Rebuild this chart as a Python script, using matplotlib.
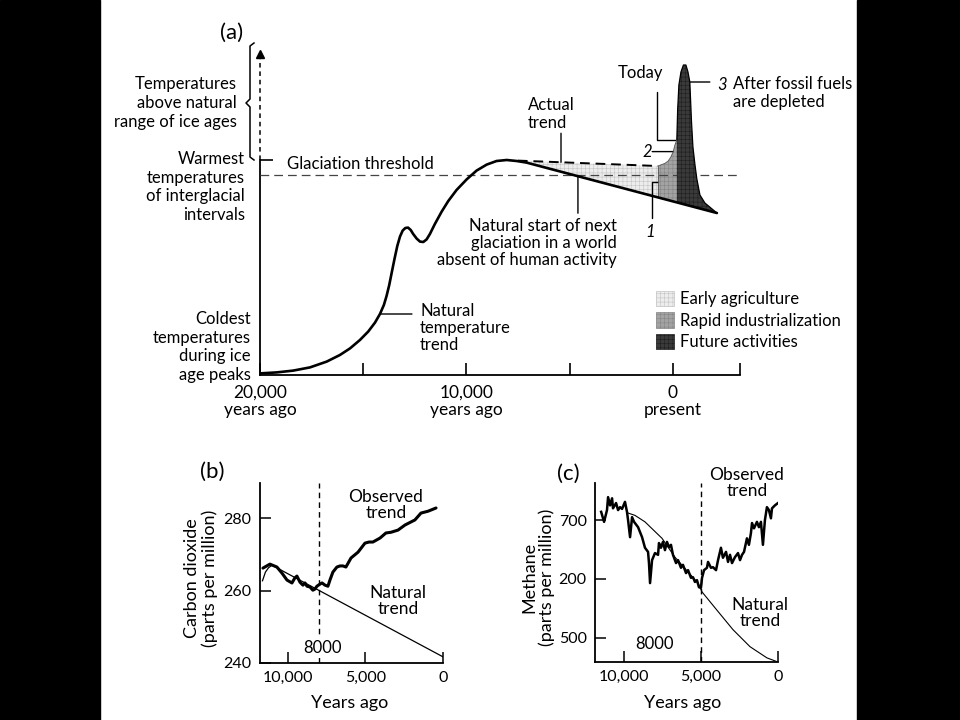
import numpy as np
import matplotlib
matplotlib.use('Agg')
import matplotlib.pyplot as plt
from matplotlib.patches import Patch, Rectangle
from matplotlib.lines import Line2D

plt.rcParams['font.family'] = ['Lato', 'DejaVu Sans']
plt.rcParams['hatch.linewidth'] = 0.4

# (a) relative temperature, years relative to present (negative = ago)
nat_years = [-20000, -19190, -18390, -17580, -16770, -16130, -15640, -15160, -14760, -14430,
             -14190, -14000, -13870, -13740, -13610, -13480, -13350, -13220, -13090, -12960,
             -12830, -12700, -12580, -12410, -12250, -12090, -11930, -11770, -11530, -11200,
             -10880, -10480, -9990, -9510, -9020, -8540, -8050, -7570, -7090, 2130]
nat_temp = [0.08, 0.13, 0.22, 0.38, 0.67, 1.0, 1.33, 1.75, 2.17, 2.62,
            3.05, 3.5, 3.95, 4.5, 5.17, 5.83, 6.45, 6.92, 7.22, 7.35,
            7.37, 7.25, 7.05, 6.82, 6.67, 6.65, 6.78, 7.05, 7.55, 8.17,
            8.7, 9.25, 9.78, 10.22, 10.52, 10.7, 10.75, 10.7, 10.62, 8.1]
actual_years = [-7510, -730]
actual_temp = [10.72, 10.45]
indust_years = [-730, -390, -230, -100, 15, 97, 190]
indust_temp = [10.45, 10.58, 10.7, 10.9, 11.17, 11.5, 11.75]
future_years = [190, 230, 290, 390, 510, 630, 730, 820, 900, 970, 1070, 1160, 1310, 1550, 1840, 2130]
future_temp = [11.75, 13.25, 14.5, 15.15, 15.5, 15.5, 15.15, 14.65, 12.67, 11.4, 10.5, 9.8, 9.0, 8.6, 8.35, 8.1]
glaciation_threshold = 10.0
warmest_interglacial = 10.75
a_ticks = [-20000, -15000, -10000, -5000, 0, 3250]
a_ticklabels = ['20,000\nyears ago', '', '10,000\nyears ago', '', '0\npresent', '']

# (b) carbon dioxide, ppm
co2_obs_years = [11610, 11160, 10710, 10380, 10060, 9740, 9550, 9420, 9220, 9030,
                 8900, 8770, 8580, 8390, 8260, 8130, 7930, 7800, 7610, 7420,
                 7290, 7100, 6840, 6640, 6450, 6260, 5930, 5480, 5030, 4770,
                 4520, 4060, 3680, 3350, 2900, 2450, 1810, 1420, 970, 450]
co2_obs_ppm = [266.2, 267.3, 266.5, 264.8, 262.9, 262.1, 263.5, 264.0, 262.3, 261.5,
               262.1, 261.2, 261.0, 260.1, 260.4, 261.2, 261.8, 262.1, 261.5, 261.2,
               262.9, 265.1, 266.5, 266.8, 266.8, 266.5, 269.0, 270.6, 273.1, 273.4,
               273.4, 274.5, 275.9, 276.1, 276.7, 278.1, 279.5, 281.4, 281.9, 282.8]
co2_nat_years = [11640, 11450, 11250, 11030, 0]
co2_nat_ppm = [262.7, 265.1, 266.3, 267.0, 241.7]

# (c) methane
ch4_obs_years = [11500, 11310, 11120, 11050, 10920, 10790, 10730, 10530, 10400, 10270,
                 10140, 9950, 9820, 9750, 9620, 9490, 9360, 9100, 8840, 8650,
                 8450, 8390, 8320, 8190, 8000, 7800, 7740, 7610, 7480, 7350,
                 7220, 7090, 6960, 6830, 6630, 6500, 6310, 6180, 5980, 5850,
                 5660, 5530, 5400, 5270, 5140, 5010, 4940, 4810, 4620, 4550,
                 4360, 4230, 4030, 3900, 3710, 3580, 3380, 3250, 3120, 2990,
                 2800, 2600, 2470, 2340, 2210, 2020, 1890, 1760, 1690, 1560,
                 1370, 1240, 1110, 980, 850, 720, 590, 460, 390, 200, 0]
ch4_obs_val = [714, 697, 717, 739, 725, 737, 720, 729, 717, 722,
               719, 731, 714, 700, 671, 705, 697, 688, 671, 653,
               646, 627, 593, 632, 644, 641, 661, 653, 663, 649,
               663, 654, 658, 641, 627, 632, 619, 624, 610, 615,
               602, 603, 595, 598, 586, 585, 602, 615, 619, 629,
               619, 620, 615, 632, 653, 636, 646, 629, 641, 627,
               637, 644, 632, 641, 646, 669, 658, 678, 695, 686,
               697, 688, 697, 658, 700, 722, 717, 703, 720, 725, 729]
ch4_nat_years = [9750, 9300, 8650, 7540, 6700, 5850, 5200, 4940, 3970, 2930, 1820, 720, 0]
ch4_nat_val = [712, 708, 697, 669, 637, 612, 593, 578, 547, 514, 485, 466, 459]
ch4_ticks = [700, 600, 500]
ch4_ticklabels = ['700', '200', '500']

W, H = 960, 720


def fx(x):
    return x / W


def fy(y):
    return 1 - y / H


def add_ax(left, top, right, bottom):
    a = fig.add_axes([fx(left), fy(bottom), (right - left) / W, (bottom - top) / H])
    a.patch.set_alpha(0)
    for s in ['top', 'right']:
        a.spines[s].set_visible(False)
    for s in ['left', 'bottom']:
        a.spines[s].set_linewidth(1.3)
    return a


def label(x, y, s, size=12, ha='left', ls=1.2, **kw):
    fig.text(fx(x), fy(y), s, fontsize=size, ha=ha, va='center', linespacing=ls, **kw)


fig = plt.figure(figsize=(9.6, 7.2), dpi=100)
fig.patch.set_facecolor('white')
fig.add_artist(Rectangle((0, 0), fx(100), 1, transform=fig.transFigure, color='black'))
fig.add_artist(Rectangle((fx(857), 0), 1 - fx(857), 1, transform=fig.transFigure, color='black'))

light = dict(facecolor='#ededed', edgecolor='#c4c4c4', hatch='++++', linewidth=0)
mid = dict(facecolor='#a3a3a3', edgecolor='#858585', hatch='++++', linewidth=0)
dark = dict(facecolor='#3a3a3a', edgecolor='#1e1e1e', hatch='++++', linewidth=0)

# ---------------- panel (a)
ax = add_ax(260, 47, 740, 375)
ax.set_xlim(-20000, 3250)
ax.set_ylim(0, 16.4)
ax.spines['left'].set_bounds(0, warmest_interglacial)

ag_x = sorted(set(actual_years + [y for y in nat_years if actual_years[0] < y < actual_years[-1]]))
ax.fill_between(ag_x, np.interp(ag_x, nat_years, nat_temp), np.interp(ag_x, actual_years, actual_temp),
                zorder=2, **light)
ax.fill_between(indust_years, np.interp(indust_years, nat_years, nat_temp), indust_temp, zorder=2, **mid)
ax.axhline(glaciation_threshold, color='#444444', lw=0.9, ls=(0, (7, 4)), zorder=3)
ax.fill_between(future_years, np.interp(future_years, nat_years, nat_temp), future_temp, zorder=4, **dark)
ax.plot(future_years, future_temp, color='black', lw=0.9, zorder=4)
ax.plot(indust_years, indust_temp, color='#555555', lw=0.6, zorder=4)
ax.plot([indust_years[0]] * 2, [np.interp(indust_years[0], nat_years, nat_temp), indust_temp[0]],
        color='#555555', lw=0.6, zorder=4)
ax.plot(actual_years, actual_temp, color='black', lw=1.4, ls=(0, (5, 3)), zorder=5)
ax.plot(nat_years, nat_temp, color='black', lw=1.9, solid_joinstyle='round', solid_capstyle='round', zorder=6)

# dashed arrow above the warmest interglacial level
ax.plot([a_ticks[0]] * 2, [warmest_interglacial, 15.9], color='black', lw=1.1, ls=(0, (3, 2.5)), clip_on=False)
ax.plot(a_ticks[0], 16.05, marker='^', ms=6, color='black', clip_on=False)

ax.set_xticks(a_ticks)
ax.set_xticklabels(a_ticklabels, linespacing=1.1)
ax.set_yticks([warmest_interglacial])
ax.set_yticklabels([])
ax.tick_params(direction='in', length=9, width=1.2, pad=7, labelsize=12.5)

# brace on the left
bx = [254, 250, 250, 246, 250, 250, 254]
by = [43, 46, 99, 103, 107, 157, 160]
fig.add_artist(Line2D([fx(v) for v in bx], [fy(v) for v in by], transform=fig.transFigure,
                      color='black', lw=1.1))

label(232, 33, '(a)', size=16, ha='center')
label(237, 103, 'Temperatures\nabove natural\nrange of ice ages', ha='right', multialignment='right')
label(245, 187, 'Warmest\ntemperatures\nof interglacial\nintervals', ha='right', multialignment='right')
label(251, 347, 'Coldest\ntemperatures\nduring ice\nage peaks', ha='right', multialignment='right')
label(287, 164, 'Glaciation threshold')
label(420, 328, 'Natural\ntemperature\ntrend', ls=1.1)
label(528, 114, 'Actual\ntrend', ls=1.1)
label(640, 73, 'Today', ha='center')
label(643, 152, '2', style='italic')
label(650, 232, '1', style='italic', ha='center')
label(722, 85, '3', style='italic', ha='center')
label(733, 93, 'After fossil fuels\nare depleted', ls=1.1)
label(617, 243, 'Natural start of next\nglaciation in a world\nabsent of human activity', ha='right',
      multialignment='right', ls=1.1)

lead = dict(arrowstyle='-', color='black', lw=1.0, shrinkA=0, shrinkB=0)
ax.annotate('', xy=(nat_years[10], nat_temp[10]), xytext=(32, 0), textcoords='offset pixels', arrowprops=lead)
ax.annotate('', xy=(-5420, np.interp(-5420, actual_years, actual_temp)), xytext=(0, 29),
            textcoords='offset pixels', arrowprops=lead)
ax.annotate('', xy=(-4600, np.interp(-4600, nat_years, nat_temp)), xytext=(0, -37),
            textcoords='offset pixels', arrowprops=lead)
ax.annotate('', xy=(indust_years[-1], indust_temp[-1]), xytext=(657, H - 92), textcoords='figure pixels',
            arrowprops=dict(lead, connectionstyle='angle,angleA=90,angleB=0,rad=0'))
ax.annotate('', xy=(indust_years[4], indust_temp[4]), xytext=(-21, 0), textcoords='offset pixels',
            arrowprops=lead)
mid_boundary = (actual_temp[-1] + np.interp(actual_years[-1], nat_years, nat_temp)) / 2
ax.annotate('', xy=(actual_years[-1], mid_boundary), xytext=(652, H - 218), textcoords='figure pixels',
            arrowprops=dict(lead, connectionstyle='angle,angleA=90,angleB=0,rad=0'))
ax.annotate('', xy=(future_years[7], future_temp[7]), xytext=(20, 0), textcoords='offset pixels',
            arrowprops=lead)

handles = [Patch(label='Early agriculture', **dict(light, linewidth=0.5)),
           Patch(label='Rapid industrialization', **dict(mid, linewidth=0.5)),
           Patch(label='Future activities', **dict(dark, linewidth=0.5))]
ax.legend(handles=handles, loc='upper left', bbox_to_anchor=(fx(656), fy(291)), bbox_transform=fig.transFigure,
          frameon=False, fontsize=12, handlelength=1.05, handleheight=1.05, labelspacing=0.3,
          handletextpad=0.4, borderpad=0, borderaxespad=0)

# ---------------- panel (b)
bx_ = add_ax(260, 483, 443, 663)
bx_.set_xlim(11800, 0)
bx_.set_ylim(240, 289.7)
bx_.axvline(8000, color='black', lw=1.0, ls=(0, (4, 3)))
bx_.plot(co2_nat_years, co2_nat_ppm, color='black', lw=0.9)
bx_.plot(co2_obs_years, co2_obs_ppm, color='black', lw=2.2, solid_joinstyle='round', solid_capstyle='round')
bx_.set_xticks([10000, 5000, 0])
bx_.set_xticklabels(['10,000', '5,000', '0'])
bx_.set_yticks([240, 260, 280])
bx_.tick_params(direction='in', length=8, width=1.1, pad=6, labelsize=11.5)

label(212, 472, '(b)', size=16, ha='center')
label(201, 578, 'Carbon dioxide\n(parts per million)', size=13, ha='center', rotation=90,
      multialignment='center', ls=1.05)
label(350, 703, 'Years ago', size=13, ha='center')
label(386, 505, 'Observed\ntrend', size=12.5, ha='center', multialignment='center', ls=1.0)
label(398, 601, 'Natural\ntrend', size=12.5, ha='center', multialignment='center', ls=1.0)
label(322, 648, '8000', size=12, ha='center',
      bbox=dict(boxstyle='square,pad=0.1', facecolor='white', edgecolor='none'))

# ---------------- panel (c)
cx = add_ax(595, 483, 778, 662)
cx.set_xlim(11900, 0)
cx.set_ylim(459, 763)
cx.axvline(5000, color='black', lw=1.0, ls=(0, (4, 3)))
cx.plot(ch4_nat_years, ch4_nat_val, color='black', lw=0.8)
cx.plot(ch4_obs_years, ch4_obs_val, color='black', lw=1.8, solid_joinstyle='round')
cx.set_xticks([10000, 5000, 0])
cx.set_xticklabels(['10,000', '5,000', '0'])
cx.set_yticks(ch4_ticks)
cx.set_yticklabels(ch4_ticklabels)
cx.tick_params(direction='in', length=8, width=1.1, pad=6, labelsize=11.5)

label(568, 474, '(c)', size=16, ha='center')
label(538, 577, 'Methane\n(parts per million)', size=13, ha='center', rotation=90,
      multialignment='center', ls=1.05)
label(683, 703, 'Years ago', size=13, ha='center')
label(747, 483, 'Observed\ntrend', size=12.5, ha='center', multialignment='center', ls=1.0)
label(760, 613, 'Natural\ntrend', size=12.5, ha='center', multialignment='center', ls=1.0)
label(654, 644, '8000', size=12, ha='center')

fig.savefig('out.png', dpi=100)
